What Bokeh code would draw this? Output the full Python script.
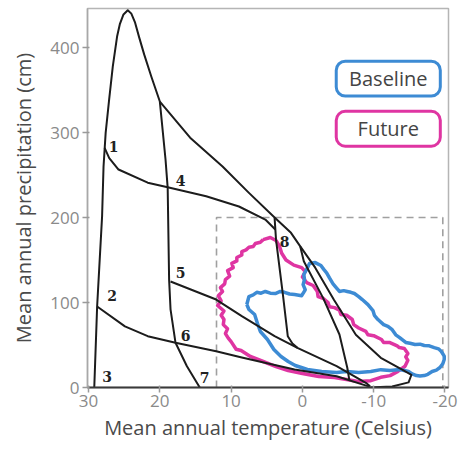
from bokeh.plotting import figure
from bokeh.models import Range1d, FixedTicker
from bokeh.core.properties import value
from bokeh.embed import file_html
from bokeh.resources import INLINE

# ---------------- data ----------------
# Whittaker biome boundary lines (temperature C, precipitation cm)
outer_x = [29.2, 28.8, 28.1, 27.9, 27.6, 27.1, 26.6, 26.0, 25.6, 25.1, 24.5, 24.0,
           23.5, 22.9, 22.2, 21.2, 20.0,
           15.75, 11.2, 7.5, 3.9, 1.6, 0.3, -1.8, -4.4, -7.5, -11.0, -14.0, -15.3,
           -14.9, -12.6, -9.3]
outer_y = [0, 95, 202, 260, 300, 340, 378, 413, 428, 439, 444, 440,
           430, 412, 392, 366, 336.5,
           294, 260, 229, 200, 182, 166, 141, 103.5, 62, 35, 21, 15,
           6, 1.2, 0]

line1_x = [27.75, 27.1, 25.8, 21.7, 18.9, 13.5, 8.9, 5.2, 3.8]
line1_y = [282, 270, 256.5, 241, 235.6, 225, 213, 197.6, 186]

line_mid_x = [20.0, 19.2, 18.9, 18.7, 18.5, 17.8, 16.2, 14.4]
line_mid_y = [336.5, 268, 235, 127, 92, 52.6, 25, 0]

line2_x = [28.8, 24.9, 21.7, 17.8, 12.1, 8.5, 1.1, -4.8, -9.4]
line2_y = [95.3, 72, 60.4, 52.6, 42.7, 35.3, 21.2, 13.3, 1.0]

line5_x = [18.5, 12.1, 8.5, 3.9, 0.7, -4.8, -8.9, -9.5]
line5_y = [124.7, 103.5, 83.9, 60.4, 46.7, 25.1, 5.5, 1.5]

line8_x = [3.9, 3.7, 2.7, 2.05, 1.4, 0.7]
line8_y = [199.6, 174, 107, 60.4, 51.8, 46.7]

tundra_x = [0.3, -0.2, -2.9, -5.2, -6.3, -6.6]
tundra_y = [166, 148.6, 105.5, 62.4, 23.2, 8.0]

zone_x = [26.5, 26.7, 27.4, 17.1, 17.1, 16.4, 13.7, 2.5]
zone_y = [284, 108, 12.6, 244, 135, 61, 11.8, 172]
zone_labels = ["1", "2", "3", "4", "5", "6", "7", "8"]

# Climate envelopes
baseline_x = [7.8, 7.5, 6.9, 6.4, 5.8, 5.2, 4.5, 3.8, 3.1, 2.5, 1.8, 1.1, 0.1, -0.4,
              -0.1, -0.3, -0.2, -0.6, -1.0, -1.8, -2.6, -3.0, -3.4, -3.8, -4.3, -4.8,
              -5.2, -5.8, -6.3, -6.8, -7.3, -7.9, -8.4, -9.2, -9.9, -10.1, -10.6, -11.4,
              -12.0, -12.6, -13.1, -13.6, -14.5, -15.1, -15.8, -16.5, -17.1, -17.8, -18.5,
              -19.1, -19.5, -19.9, -19.9, -19.7, -19.3, -18.8, -18.2, -17.6, -17.1, -16.5,
              -16.0, -15.4, -14.9, -13.7, -12.3, -11.0, -9.6, -7.9, -6.2, -4.8, -2.7, -0.7,
              1.0, 2.0, 3.0, 4.0, 4.9, 5.9, 6.3, 6.7, 7.5, 7.8]
baseline_y = [97.6, 107, 109, 112, 111, 113, 111, 110.6, 113, 112, 110, 109.4, 108, 115,
              121, 127, 133, 139, 146, 147, 143.5, 139, 135, 129, 122, 117,
              113, 114, 113, 112, 110.6, 107, 103.5, 97.6, 90.6, 85, 80, 74,
              72, 68, 62, 59, 53, 52, 50.6, 51, 49.4, 49, 47,
              45.5, 42.4, 37, 33, 28, 23.5, 20.5, 18.8, 15.5, 14, 13.5,
              14, 16, 18.8, 21.2, 20, 21, 18.8, 17.6, 18.8, 17.6, 18.8, 21.2,
              25.9, 30.6, 36.5, 44.7, 56.5, 65.9, 75.3, 85.9, 91.8, 97.6]

future_x = [5.5, 4.5, 3.7, 3.2, 2.9, 2.3, 1.2, 0.1, -0.4, 0.0, -0.6, -1.5, -2.1,
            -2.2, -2.9, -3.6, -3.8, -4.5, -5.2, -5.4, -6.2, -7.0, -7.2, -7.9, -8.9,
            -9.2, -10.0, -11.1, -11.4, -12.2, -13.3, -13.6, -14.3, -14.8, -14.5, -14.8,
            -14.4, -13.4, -12.3, -11.0, -9.6, -7.8, -6.2, -4.5, -2.3, 0.0, 2.0, 3.7,
            5.5, 7.3, 8.6, 9.3, 10.0, 10.4, 10.8, 10.5, 11.1, 11.0, 11.4, 11.0, 11.9,
            11.4, 11.8, 11.2, 11.5, 10.9, 10.8, 10.2, 10.5, 9.7, 9.9, 9.2, 9.2, 8.5,
            8.5, 7.9, 7.5, 6.9, 6.6, 5.9, 5.5]
future_y = [174, 176.5, 173, 166, 158, 150, 144, 141, 136.5, 130, 123.5, 120, 113,
            107, 105, 100, 95, 94, 91, 86, 85, 80, 74, 70, 66,
            62, 61, 56.5, 53, 53, 49, 47, 46, 40, 36, 32,
            25, 19, 14, 12, 8, 7, 9.4, 11.8, 13, 16.5, 20, 24.7,
            30.6, 36.5, 43.5, 45, 54, 58, 63.5, 69, 74, 80, 85, 90, 96.5,
            102, 108, 113, 117.6, 122, 127, 131, 137.6, 141, 146, 149, 153, 156,
            160, 162, 165, 166, 169.4, 171, 174]

# Dashed study window
window_x = [12.05, 12.05, -19.7, -19.7]
window_y = [0, 200, 200, 0]

x_ticks = [30, 20, 10, 0, -10, -20]
x_tick_labels = ["30", "20", "10", "0", "-10", "-20"]
y_ticks = [0, 100, 200, 300, 400]
y_tick_labels = ["0", "100", "200", "300", "400"]

legend_names = ["Baseline", "Future"]

# ---------------- styling ----------------
BLUE = "#3d8bd4"
MAGENTA = "#df35a2"
FONT = "Open Sans"

p = figure(width=458, height=443,
           x_range=Range1d(30.15, -20.5), y_range=Range1d(0, 446),
           output_backend="svg", toolbar_location=None,
           min_border_left=87, min_border_right=10, min_border_top=8,
           min_border_bottom=55)
p.background_fill_color = "white"
p.border_fill_color = "white"
p.outline_line_color = "#b5b5b5"
p.outline_line_width = 1.5
p.grid.visible = False

p.xaxis.ticker = FixedTicker(ticks=x_ticks)
p.xaxis.major_label_overrides = {t: l for t, l in zip(x_ticks, x_tick_labels)}
p.yaxis.ticker = FixedTicker(ticks=y_ticks)
p.yaxis.major_label_overrides = {t: l for t, l in zip(y_ticks, y_tick_labels)}

p.xaxis.axis_label = "Mean annual temperature (Celsius)"
p.yaxis.axis_label = "Mean annual precipitation (cm)"
for ax in (p.xaxis, p.yaxis):
    ax.axis_label_text_font = FONT
    ax.axis_label_text_font_size = "20px"
    ax.axis_label_text_font_style = "normal"
    ax.axis_label_text_color = "#4a4a4a"
    ax.major_label_text_font = FONT
    ax.major_label_text_font_size = "17px"
    ax.major_label_text_color = "#8a8a8a"
    ax.minor_tick_line_color = None
    ax.major_tick_in = 2
    ax.major_tick_out = 5
    ax.major_tick_line_color = "#999999"
    ax.major_tick_line_width = 1.5
p.xaxis.axis_line_color = "#3a3a3a"
p.xaxis.axis_line_width = 2
p.yaxis.axis_line_color = "#a8a8a8"
p.yaxis.axis_line_width = 1.5
p.xaxis.axis_label_standoff = 4
p.yaxis.axis_label_standoff = 10
p.xaxis.major_label_standoff = 2
p.yaxis.major_label_standoff = 3

# dashed study window
p.line(window_x, window_y, line_color="#a0a0a0", line_width=1.6, line_dash="7 5")

# envelopes
p.line(future_x, future_y, line_color=MAGENTA, line_width=3.5, line_join="round")
p.line(baseline_x, baseline_y, line_color=BLUE, line_width=3.5, line_join="round")

# biome lines
for xs, ys in [(outer_x, outer_y), (line1_x, line1_y), (line_mid_x, line_mid_y),
               (line2_x, line2_y), (line5_x, line5_y), (line8_x, line8_y),
               (tundra_x, tundra_y)]:
    p.line(xs, ys, line_color="#1c1c1c", line_width=2, line_join="round")

p.text(x=zone_x, y=zone_y, text=zone_labels, text_font=value("DejaVu Serif"),
       text_font_size="14px", text_font_style="bold", text_color="#222222",
       text_align="center", text_baseline="middle")

# legend boxes
box_left = -4.75
box_right = -19.35
box_tops = [384, 325]
box_bottoms = [343, 284]
for name, col, t, b in zip(legend_names, [BLUE, MAGENTA], box_tops, box_bottoms):
    p.quad(left=[box_left], right=[box_right], top=[t], bottom=[b],
           fill_color="white", line_color=col, line_width=3, border_radius=9)
    p.text(x=[(box_left + box_right) / 2], y=[(t + b) / 2], text=[name],
           text_font=value(FONT), text_font_size="20px", text_color="#444444",
           text_align="center", text_baseline="middle")

open("out.html", "w").write(file_html(p, INLINE))
